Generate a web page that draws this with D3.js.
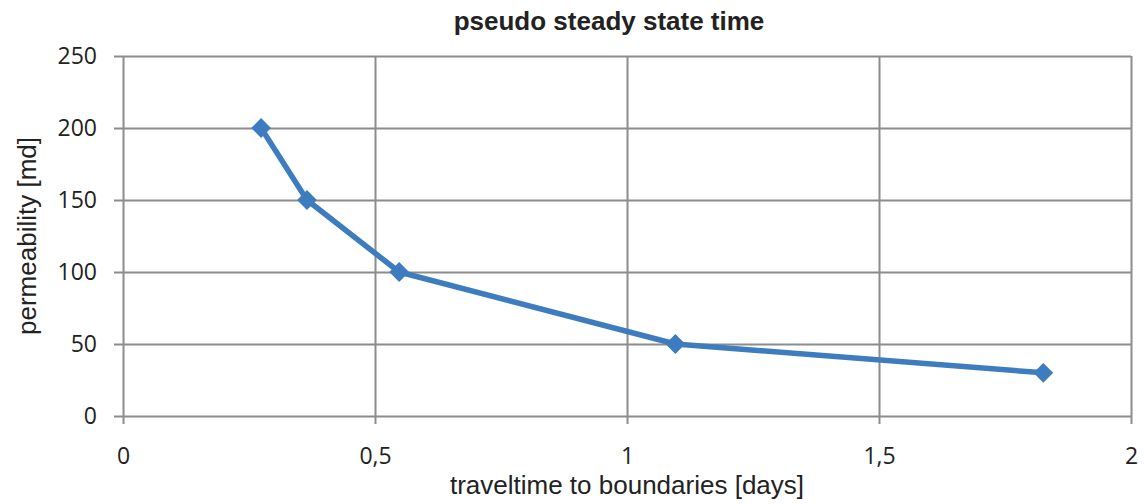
<!DOCTYPE html>
<html>
<head>
<meta charset="utf-8">
<script src="https://cdn.jsdelivr.net/npm/d3@7"></script>
<style>
  html, body { margin: 0; padding: 0; background: #fff; }
  svg { display: block; }
</style>
</head>
<body>
<svg id="chart" width="1144" height="504"></svg>
<script>
// Travel time to the reservoir boundaries for each permeability case
const travelTimeDays = [0.274, 0.365, 0.548, 1.096, 1.826];
const permeabilityMd = [200, 150, 100, 50, 30];
const xTickValues = [0, 0.5, 1, 1.5, 2];
const xTickLabels = ["0", "0,5", "1", "1,5", "2"];
const yTickValues = [0, 50, 100, 150, 200, 250];
const yTickLabels = ["0", "50", "100", "150", "200", "250"];

const W = 1144, H = 504;
const margin = { left: 123, right: 13, top: 56, bottom: 88 };
const svg = d3.select("#chart");

const x = d3.scaleLinear().domain([0, 2]).range([margin.left, W - margin.right]);
const y = d3.scaleLinear().domain([0, 250]).range([H - margin.bottom, margin.top]);

const gridColor = "#8c8c8c";
const tickFont = "'Open Sans', 'DejaVu Sans', sans-serif";
const labelFont = "'Liberation Sans', Arial, sans-serif";

// Horizontal gridlines with short outside ticks
const yAxis = d3.axisLeft(y)
  .tickValues(yTickValues)
  .tickFormat((d, i) => yTickLabels[i])
  .tickSize(-(x.range()[1] - x.range()[0]))
  .tickSizeOuter(0)
  .tickPadding(26);
const gy = svg.append("g").attr("transform", `translate(${margin.left},0)`).call(yAxis);
gy.select(".domain").remove();
gy.selectAll(".tick line").attr("stroke", gridColor).attr("stroke-width", 2)
  .attr("x1", -9);
gy.selectAll(".tick text")
  .attr("fill", "#222").style("font-family", tickFont).style("font-size", "23px");

// Vertical gridlines with short outside ticks
const xAxis = d3.axisBottom(x)
  .tickValues(xTickValues)
  .tickFormat((d, i) => xTickLabels[i])
  .tickSize(-(y.range()[0] - y.range()[1]))
  .tickSizeOuter(0)
  .tickPadding(32);
const gx = svg.append("g").attr("transform", `translate(0,${H - margin.bottom})`).call(xAxis);
gx.select(".domain").remove();
gx.selectAll(".tick line").attr("stroke", gridColor).attr("stroke-width", 2)
  .attr("y1", 8);
gx.selectAll(".tick text")
  .attr("fill", "#222").style("font-family", tickFont).style("font-size", "23px");

// Data series
const pts = travelTimeDays.map((t, i) => [t, permeabilityMd[i]]);
const line = d3.line().x(d => x(d[0])).y(d => y(d[1]));
const blue = "#3d7dbf";
svg.append("path").datum(pts)
  .attr("d", line).attr("fill", "none")
  .attr("stroke", blue).attr("stroke-width", 5.5).attr("stroke-linejoin", "round");

svg.append("g").selectAll("path").data(pts).join("path")
  .attr("d", d3.symbol().type(d3.symbolDiamond2).size(250))
  .attr("transform", d => `translate(${x(d[0])},${y(d[1])})`)
  .attr("fill", blue);

// Titles
svg.append("text")
  .attr("x", 609).attr("y", 30)
  .attr("text-anchor", "middle")
  .style("font-family", labelFont).style("font-weight", "bold").style("font-size", "26px")
  .attr("fill", "#222")
  .text("pseudo steady state time");

svg.append("text")
  .attr("x", x(1)).attr("y", 494)
  .attr("text-anchor", "middle")
  .style("font-family", labelFont).style("font-size", "26px")
  .attr("fill", "#222")
  .text("traveltime to boundaries [days]");

svg.append("text")
  .attr("transform", `translate(36,${y(125)}) rotate(-90)`)
  .attr("text-anchor", "middle")
  .style("font-family", labelFont).style("font-size", "26px")
  .attr("fill", "#222")
  .text("permeability [md]");
</script>
</body>
</html>
